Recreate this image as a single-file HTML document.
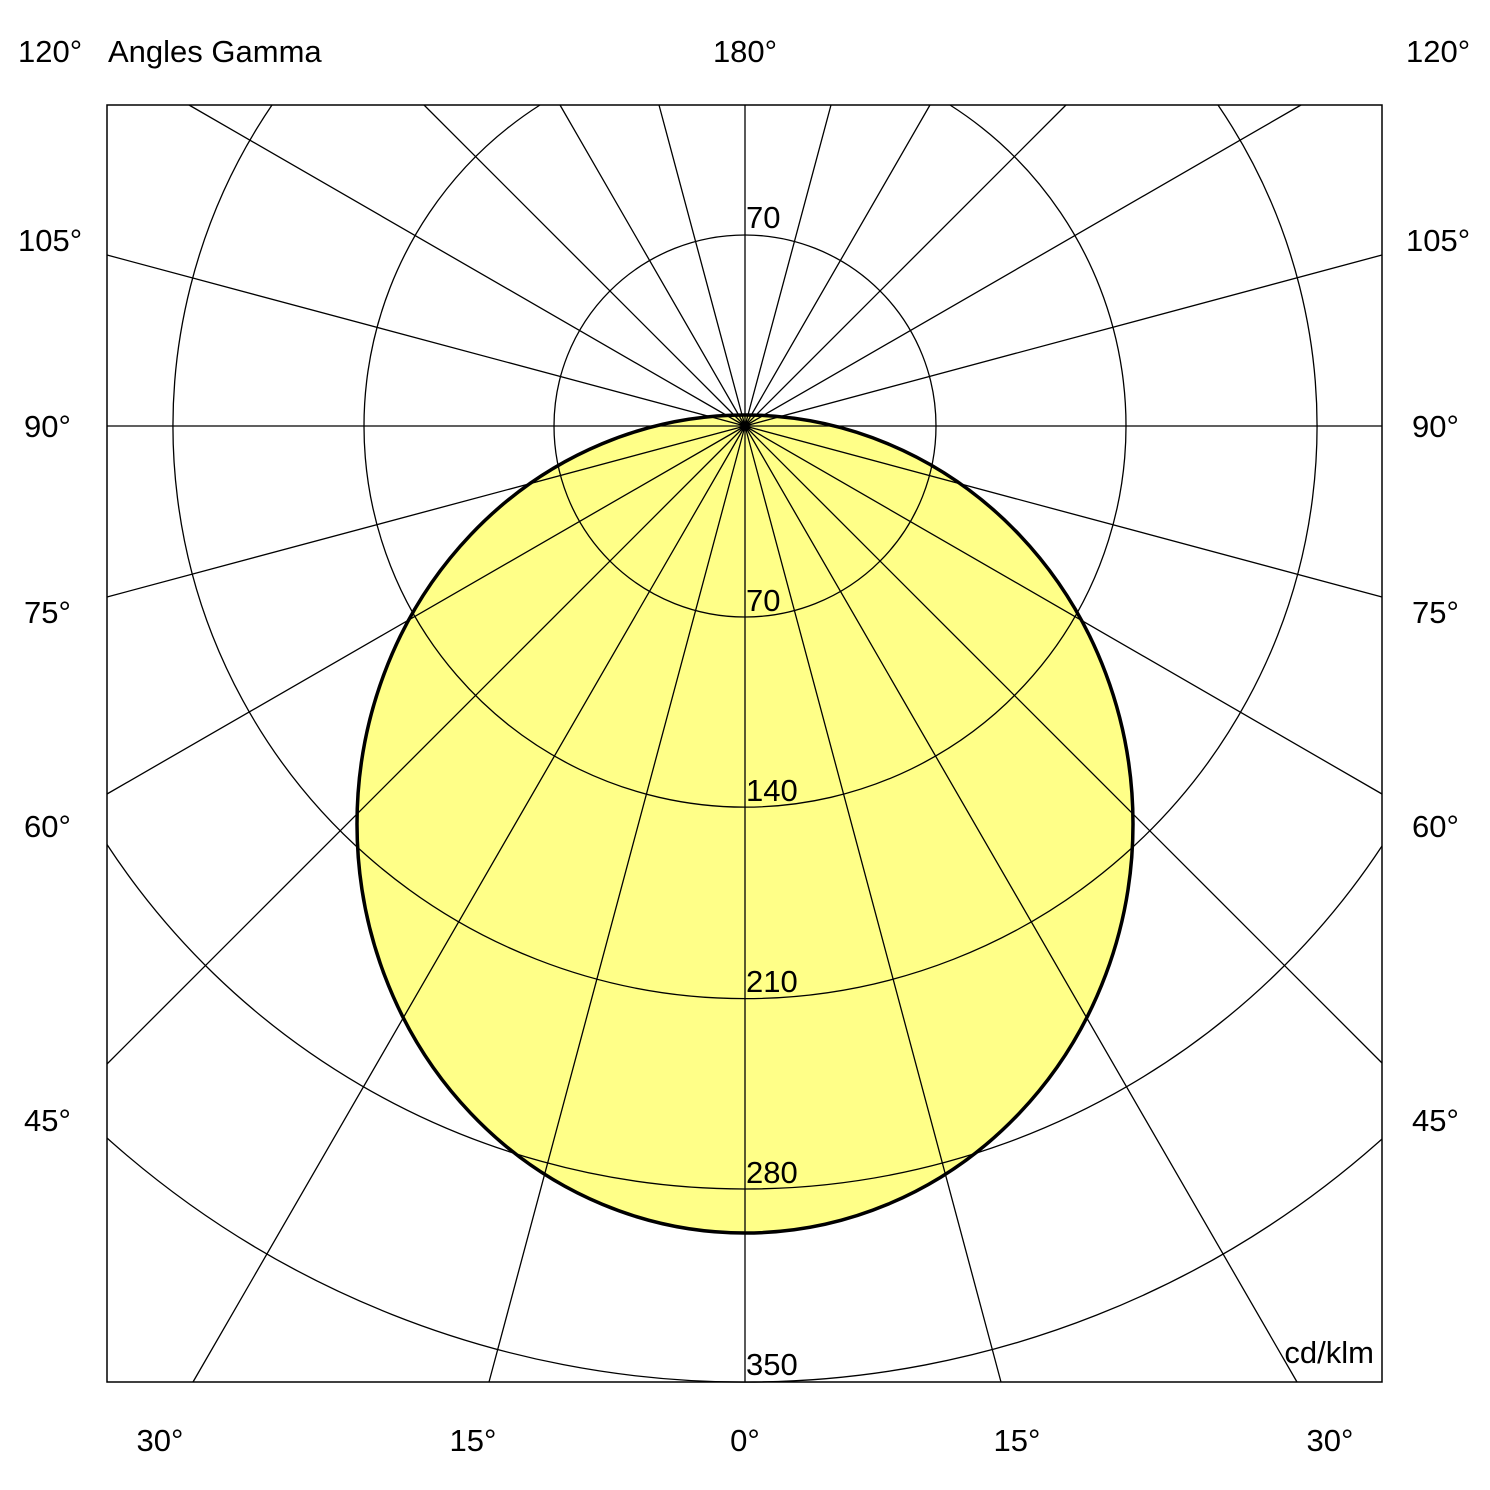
<!DOCTYPE html>
<html><head><style>html,body{margin:0;width:1490px;height:1490px;overflow:hidden;background:#fff}svg{display:block}text{font-family:"Liberation Sans",Arial,sans-serif;font-size:31px;fill:#000}</style></head>
<body>
<svg width="1490" height="1490" viewBox="0 0 1490 1490" xmlns="http://www.w3.org/2000/svg">
<rect width="1490" height="1490" fill="#fff"/>
<ellipse cx="745" cy="824" rx="388" ry="409" fill="#ffff88"/>
<g fill="none" stroke="#000" stroke-width="1.3">
<circle cx="745" cy="426" r="191"/>
<path d="M540,105 A381,381 0 1 0 950,105"/>
<path d="M272,105 A572,572 0 1 0 1218,105"/>
<path d="M107,844.5 A763,763 0 0 0 1382,846"/>
<path d="M107,1138 A956,956 0 0 0 1382,1139"/>
<line x1="745" y1="105" x2="745" y2="1382"/>
<line x1="107" y1="426" x2="1382" y2="426"/>
<path d="M745,426L489,1382M745,426L193,1382M745,426L107,1064M745,426L107,794M745,426L107,597M745,426L107,255M745,426L189,105M745,426L424,105M745,426L560,105M745,426L659,105
M745,426L1001,1382M745,426L1297,1382M745,426L1382,1063M745,426L1382,794M745,426L1382,597M745,426L1382,255M745,426L1301,105M745,426L1066,105M745,426L930,105M745,426L831,105"/>
</g>
<ellipse cx="745" cy="824" rx="388" ry="409" fill="none" stroke="#000" stroke-width="3.5"/>
<rect x="107" y="105" width="1275" height="1277" fill="none" stroke="#000" stroke-width="1.5"/>
<text x="18" y="62">120°</text>
<text x="108" y="62">Angles Gamma</text>
<text x="745" y="62" text-anchor="middle">180°</text>
<text x="1406" y="62">120°</text>
<text x="18" y="251">105°</text><text x="1406" y="251">105°</text>
<text x="24" y="437">90°</text><text x="1412" y="437">90°</text>
<text x="24" y="623">75°</text><text x="1412" y="623">75°</text>
<text x="24" y="837">60°</text><text x="1412" y="837">60°</text>
<text x="24" y="1131">45°</text><text x="1412" y="1131">45°</text>
<text x="160" y="1451" text-anchor="middle">30°</text>
<text x="473" y="1451" text-anchor="middle">15°</text>
<text x="745" y="1451" text-anchor="middle">0°</text>
<text x="1017" y="1451" text-anchor="middle">15°</text>
<text x="1330" y="1451" text-anchor="middle">30°</text>
<text x="746" y="228">70</text>
<text x="746" y="611">70</text>
<text x="746" y="801">140</text>
<text x="746" y="992">210</text>
<text x="746" y="1183">280</text>
<text x="746" y="1375">350</text>
<text x="1374" y="1363" text-anchor="end">cd/klm</text>
</svg>
</body></html>
